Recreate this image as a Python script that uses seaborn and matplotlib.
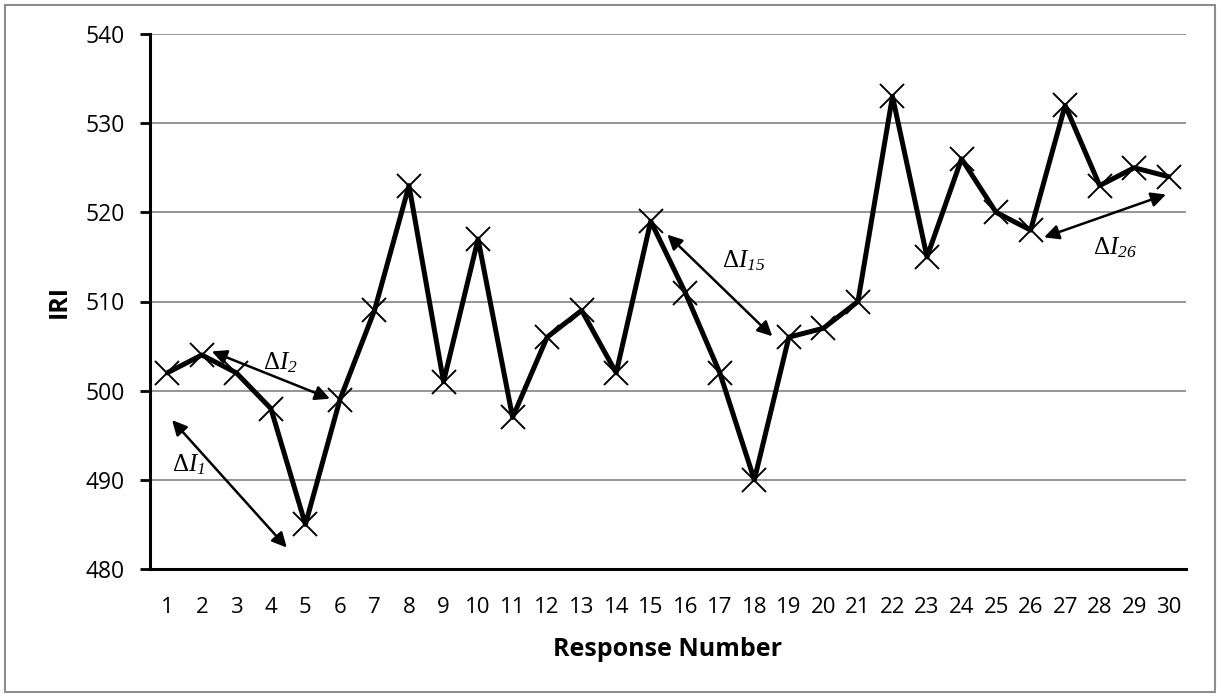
import matplotlib
matplotlib.use("Agg")
import matplotlib.pyplot as plt
import seaborn as sns
import pandas as pd
from matplotlib.patches import Rectangle

responses = list(range(1, 31))
iri = [502, 504, 502, 498, 485, 499, 509, 523, 501, 517,
       497, 506, 509, 502, 519, 511, 502, 490, 506, 507,
       510, 533, 515, 526, 520, 518, 532, 523, 525, 524]
y_ticks = [480, 490, 500, 510, 520, 530, 540]

# annotations: subscript, arrow start, arrow end, text position (data units)
ann_labels = ["1", "2", "15", "26"]
ann_start = [(1.14, 496.7), (2.29, 504.4), (15.48, 517.5), (26.39, 517.2)]
ann_end = [(4.46, 482.4), (5.71, 499.1), (18.52, 506.1), (29.92, 522.0)]
ann_text = [(1.14, 491.7), (3.77, 503.1), (17.07, 514.5), (27.81, 516.0)]

df = pd.DataFrame({"Response": responses, "IRI": iri})

sns.set_theme(style="white")
plt.rcParams["font.family"] = ["Open Sans", "DejaVu Sans"]
plt.rcParams["text.color"] = "black"
plt.rcParams["axes.labelcolor"] = "black"
plt.rcParams["mathtext.fontset"] = "custom"
plt.rcParams["mathtext.rm"] = "Liberation Serif"
plt.rcParams["mathtext.it"] = "Liberation Serif:italic"
plt.rcParams["mathtext.sf"] = "Liberation Serif:italic"

fig = plt.figure(figsize=(12.21, 6.97), dpi=100)
ax = fig.add_axes([150 / 1221, 1 - 569 / 697, (1186 - 150) / 1221, (569 - 34) / 697])

ax.yaxis.grid(True, color="#8c8c8c", linewidth=1.3, zorder=0)
ax.set_axisbelow(True)

sns.lineplot(data=df, x="Response", y="IRI", ax=ax, color="black", linewidth=3.6,
             marker="x", markersize=17, markeredgewidth=1.4, markeredgecolor="black",
             zorder=3)

ax.set_xlim(0.5, 30.5)
ax.set_ylim(480, 540)
ax.set_yticks(y_ticks)
ax.set_xticks(responses)
ax.set_xticks([i + 0.5 for i in range(0, 31)], minor=True)
ax.tick_params(axis="x", which="major", length=0, pad=20, labelsize=16, colors="black")
ax.tick_params(axis="x", which="minor", length=7, width=2, direction="out", color="black")
ax.tick_params(axis="y", which="major", length=7, width=2, direction="out", pad=11,
               labelsize=16.5, colors="black", left=True)

for s in ["top", "right"]:
    ax.spines[s].set_visible(False)
for s in ["left", "bottom"]:
    ax.spines[s].set_color("black")
    ax.spines[s].set_linewidth(2.2)

ax.set_xlabel("Response Number", fontsize=18, fontweight="bold", labelpad=14, color="black")
ax.set_ylabel("IRI", fontsize=18, fontweight="bold", labelpad=10, color="black")

for lab, st, en, tp in zip(ann_labels, ann_start, ann_end, ann_text):
    ax.annotate("", xy=en, xytext=st,
                arrowprops=dict(arrowstyle="<|-|>", color="black", lw=1.8,
                                mutation_scale=22, shrinkA=0, shrinkB=0),
                zorder=4)
    ax.text(tp[0], tp[1], r"$\Delta\mathit{I}_{\mathsf{" + lab + "}}$", fontsize=18,
            ha="left", va="center", color="black", zorder=4)

fig.patches.append(Rectangle((5 / 1221, 5 / 697), 1210 / 1221, 687 / 697,
                             transform=fig.transFigure, fill=False,
                             edgecolor="#8c8c8c", linewidth=1.5))

fig.savefig("out.png", dpi=100)
